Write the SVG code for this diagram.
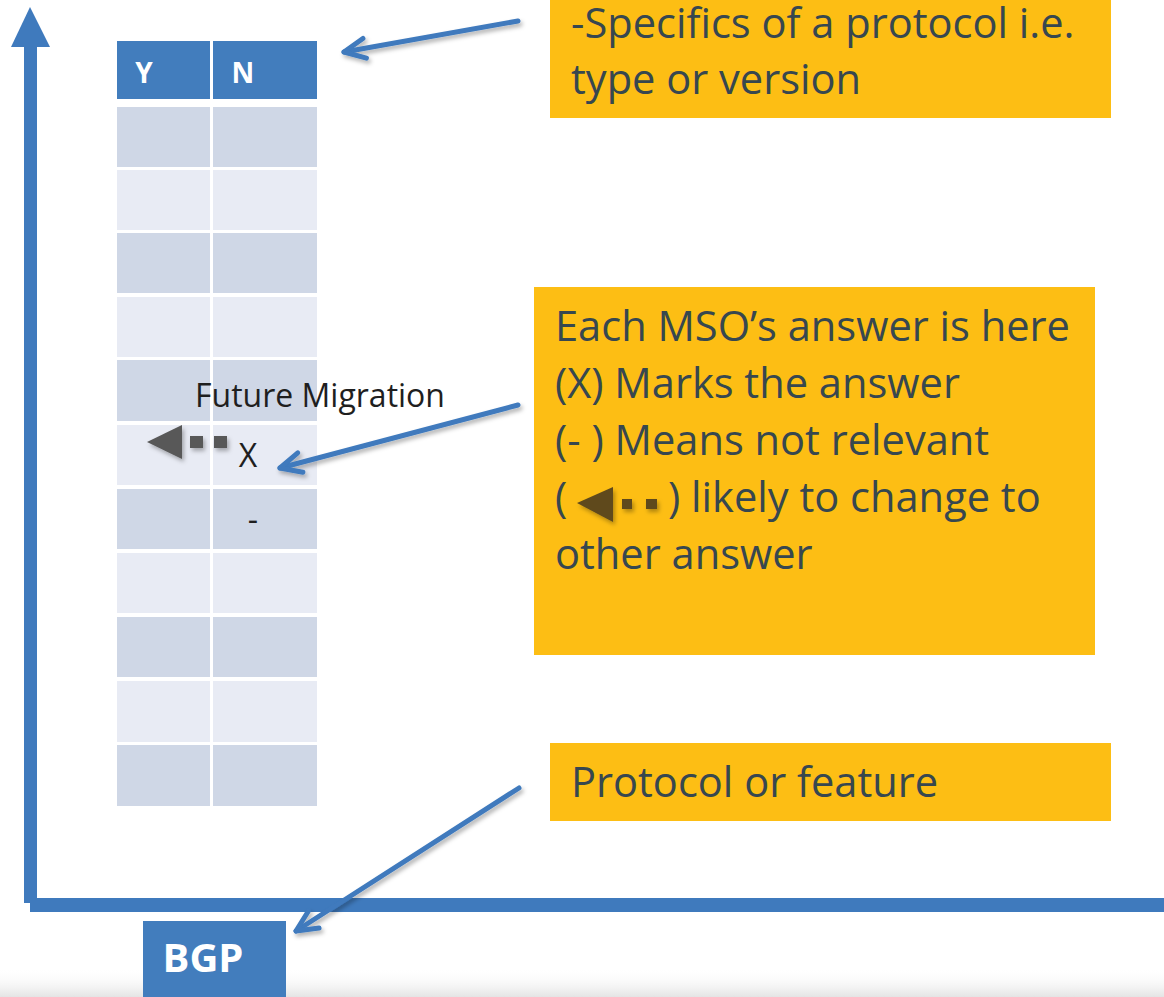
<svg xmlns="http://www.w3.org/2000/svg" width="1164" height="997" viewBox="0 0 1164 997">
  <style>
    .axis { fill: #3F7ABD; }
    .hdr { fill: #427DBD; }
    .dark { fill: #CFD7E6; }
    .light { fill: #E8EBF4; }
    .note { fill: #FDBE14; }
    .note-text { font-family: "Open Sans", "Liberation Sans", sans-serif; font-size: 41.6px; fill: #37474F; }
    .hdr-text { font-family: "Open Sans", "Liberation Sans", sans-serif; font-size: 28px; font-weight: bold; fill: #FFFFFF; text-anchor: middle; }
    .cell-text { font-family: "Open Sans", "Liberation Sans", sans-serif; font-size: 32px; fill: #1F1F1F; }
    .pointer { fill: none; stroke: #3F7ABD; stroke-width: 5; stroke-linecap: round; stroke-linejoin: round; }
  </style>
  <defs>
    <filter id="shadow" x="-10%" y="-20%" width="130%" height="160%">
      <feDropShadow dx="2" dy="3" stdDeviation="2" flood-color="#000" flood-opacity="0.3"/>
    </filter>
    <marker id="chevron" markerUnits="userSpaceOnUse" viewBox="-26 -14 30 28" markerWidth="30" markerHeight="28" refX="0" refY="0" orient="auto" overflow="visible">
      <path d="M -21,-10 L 0,0 L -21,10" fill="none" stroke="#3F7ABD" stroke-width="5" stroke-linecap="round" stroke-linejoin="round"/>
    </marker>
    <linearGradient id="floor" x1="0" y1="0" x2="0" y2="1">
      <stop offset="0" stop-color="#FFFFFF" stop-opacity="0"/>
      <stop offset="1" stop-color="#E4E4E4"/>
    </linearGradient>
  </defs>

  <rect x="0" y="0" width="1164" height="997" fill="#FFFFFF"/>
  <rect x="0" y="968" width="1164" height="29" fill="url(#floor)"/>

  <!-- axes -->
  <g id="axes">
    <polygon class="axis" points="30,7 11,47 50,47"/>
    <rect class="axis" x="24" y="46" width="13" height="857"/>
    <rect class="axis" x="30" y="898" width="1134" height="14"/>
  </g>

  <!-- answer table -->
  <g id="table">
    <rect class="hdr" x="117" y="41" width="93" height="58"/>
    <rect class="hdr" x="213" y="41" width="104" height="58"/>
    <text class="hdr-text" x="144" y="83">Y</text>
    <text class="hdr-text" x="243" y="83">N</text>

    <rect class="dark" x="117" y="107" width="93" height="60"/><rect class="dark" x="213" y="107" width="104" height="60"/>
    <rect class="light" x="117" y="170" width="93" height="60"/><rect class="light" x="213" y="170" width="104" height="60"/>
    <rect class="dark" x="117" y="233" width="93" height="60"/><rect class="dark" x="213" y="233" width="104" height="60"/>
    <rect class="light" x="117" y="297" width="93" height="60"/><rect class="light" x="213" y="297" width="104" height="60"/>
    <rect class="dark" x="117" y="360" width="93" height="61"/><rect class="dark" x="213" y="360" width="104" height="61"/>
    <rect class="light" x="117" y="425" width="93" height="60"/><rect class="light" x="213" y="425" width="104" height="60"/>
    <rect class="dark" x="117" y="489" width="93" height="60"/><rect class="dark" x="213" y="489" width="104" height="60"/>
    <rect class="light" x="117" y="553" width="93" height="60"/><rect class="light" x="213" y="553" width="104" height="60"/>
    <rect class="dark" x="117" y="617" width="93" height="60"/><rect class="dark" x="213" y="617" width="104" height="60"/>
    <rect class="light" x="117" y="681" width="93" height="61"/><rect class="light" x="213" y="681" width="104" height="61"/>
    <rect class="dark" x="117" y="745" width="93" height="61"/><rect class="dark" x="213" y="745" width="104" height="61"/>

    <text class="cell-text" x="195" y="407">Future Migration</text>
    <text class="cell-text" x="248" y="467" text-anchor="middle">X</text>
    <text class="cell-text" x="253" y="531" text-anchor="middle">-</text>

    <!-- migration indicator -->
    <g fill="#585858" filter="url(#shadow)">
      <polygon points="147,442 182,425 182,459"/>
      <rect x="190" y="436" width="13" height="12"/>
      <rect x="214" y="436" width="13" height="12"/>
    </g>
  </g>

  <!-- note: version -->
  <g id="note-version">
    <rect class="note" x="550" y="0" width="561" height="118"/>
    <text class="note-text" x="571" y="38">-Specifics of a protocol i.e.</text>
    <text class="note-text" x="571" y="94">type or version</text>
  </g>

  <!-- note: answers -->
  <g id="note-answers">
    <rect class="note" x="534" y="287" width="561" height="368"/>
    <text class="note-text" x="555" y="341">Each MSO’s answer is here</text>
    <text class="note-text" x="555" y="398">(X) Marks the answer</text>
    <text class="note-text" x="555" y="455">(- ) Means not relevant</text>
    <text class="note-text" x="555" y="512">(</text>
    <g fill="#5E4A1F" filter="url(#shadow)">
      <polygon points="577,503 613,487 613,522"/>
      <rect x="622" y="499" width="10" height="10"/>
      <rect x="646" y="499" width="11" height="10"/>
    </g>
    <text class="note-text" x="668" y="512">) likely to change to</text>
    <text class="note-text" x="555" y="569">other answer</text>
  </g>

  <!-- note: protocol -->
  <g id="note-protocol">
    <rect class="note" x="550" y="743" width="561" height="78"/>
    <text class="note-text" x="571" y="797">Protocol or feature</text>
  </g>

  <!-- protocol label -->
  <g id="bgp">
    <rect class="hdr" x="143" y="921" width="143" height="76"/>
    <text x="203" y="972" font-family="'Open Sans', 'Liberation Sans', sans-serif" font-size="40" font-weight="bold" fill="#FFFFFF" text-anchor="middle">BGP</text>
  </g>

  <!-- pointers -->
  <g id="connectors" filter="url(#shadow)">
    <path class="pointer" d="M 518,21 L 344,52" marker-end="url(#chevron)"/>
    <path class="pointer" d="M 518,405 L 280,468" marker-end="url(#chevron)"/>
    <path class="pointer" d="M 519,788 L 296,931" marker-end="url(#chevron)"/>
  </g>
</svg>
